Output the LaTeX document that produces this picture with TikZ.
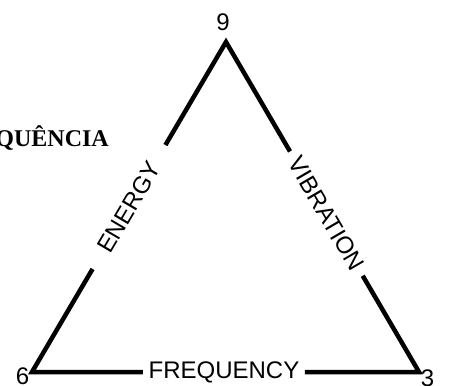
\documentclass[tikz,border=0pt]{standalone}
\usepackage{fontspec}
\setmainfont{Liberation Sans}
\newfontfamily\serifbold{Liberation Serif}
\begin{document}
\begin{tikzpicture}[x=1pt,y=1pt,
  side/.style={line width=4.5pt, line join=miter},
  lab/.style={font=\fontsize{24}{24}\selectfont, inner ysep=2pt, sloped},
  num/.style={font=\fontsize{24}{24}\selectfont, inner sep=0pt}]
\useasboundingbox (0,0) rectangle (449,385);
\coordinate (c9) at (226,343);
\coordinate (c6) at (32,13);
\coordinate (c3) at (419,13);
\path (c6) -- node[lab, pos=0.5, inner xsep=21pt] (energy) {ENERGY} (c9);
\path (c9) -- node[lab, pos=0.52, inner xsep=8pt] (vib) {VIBRATION} (c3);
\path (c6) -- node[lab, pos=0.496, inner xsep=5.5pt] (freq) {FREQUENCY} (c3);
\draw[side] (energy.east) -- (c9) -- (vib.west);
\draw[side] (vib.east) -- (c3) -- (freq.east);
\draw[side] (freq.west) -- (c6) -- (energy.west);
\node[num] (n9) at (223,363) {9};
\node[num] (n6) at (22.5,9) {6};
\node[num] (n3) at (427.5,7) {3};
\node[anchor=base east, font=\serifbold\bfseries\fontsize{24}{24}\selectfont, inner sep=0pt] (freqpt) at (109,238) {QUÊNCIA};
\end{tikzpicture}
\end{document}
